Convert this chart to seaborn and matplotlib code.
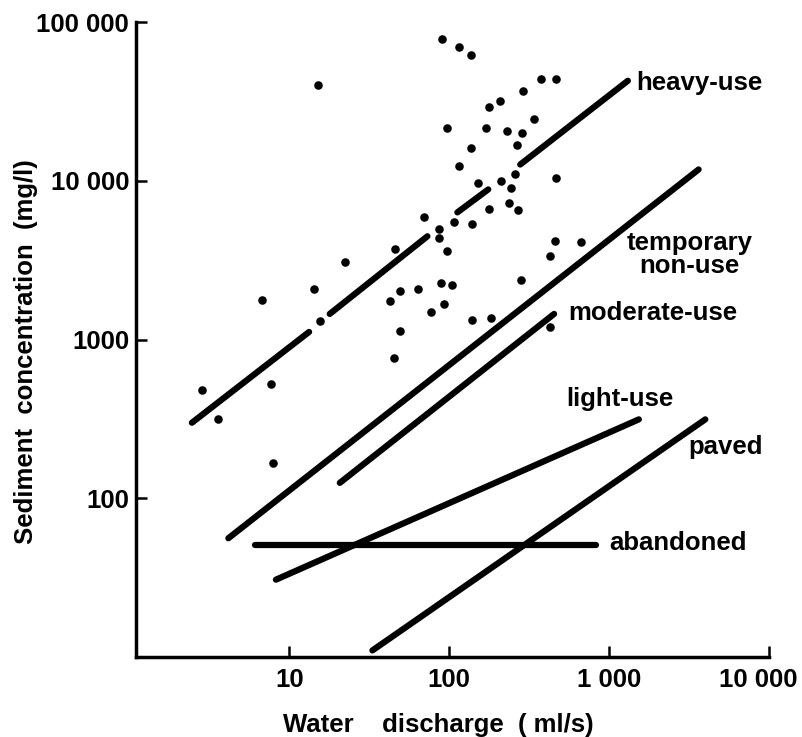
import pandas as pd
import seaborn as sns
import matplotlib.pyplot as plt
from matplotlib import transforms

# sampled storms: water discharge (ml/s) and sediment concentration (mg/l)
discharge = [90.3, 115.8, 137, 374, 464, 290, 178, 208, 340, 97, 170, 230, 286, 136, 264,
             116, 464, 259, 151, 212, 244, 237, 271, 178, 70, 107, 139, 86, 86, 97,
             459, 670, 426, 283, 49, 63.4, 89, 104, 77, 93, 139, 182, 428, 45.7, 22.2,
             14.3, 6.72, 15.5, 42.6, 49, 45.1, 2.84, 7.65, 3.6, 7.87, 15.1]
sediment = [78200, 69400, 62300, 43900, 43600, 36500, 29100, 31800, 24500, 21600, 21400, 20600, 20000, 16100, 16700,
            12300, 10400, 11000, 9710, 9940, 9040, 7280, 6510, 6670, 5880, 5500, 5320, 5000, 4390, 3620,
            4180, 4120, 3360, 2380, 2030, 2080, 2270, 2220, 1485, 1665, 1333, 1373, 1195, 3740, 3060,
            2080, 1780, 1314, 1747, 1132, 763, 478, 521, 316, 167, 40200]

# rating lines per road class (end points)
# heavy-use is printed broken where it runs through the dots
heavy_use_q = [2.46, 13.3, 17.9, 73.1, 112.5, 175.5, 278, 1310]
heavy_use_c = [299, 1116, 1449, 4470, 6320, 8820, 12650, 42640]
heavy_use_piece = [0, 0, 1, 1, 2, 2, 3, 3]
temporary_q = [4.16, 3630]
temporary_c = [56, 11780]
moderate_q = [20.7, 453]
moderate_c = [125, 1449]
light_q = [8.25, 1535]
light_c = [30.7, 314]
paved_q = [33.1, 3997]
paved_c = [11, 314]
abandoned_q = [6.1, 824]
abandoned_c = [51, 51]

label_text = ["heavy-use", "temporary\nnon-use", "moderate-use", "light-use", "paved", "abandoned"]
label_q = [1469, 3190, 553, 540, 3112, 997]
label_c = [37400, 2620, 1334, 383, 191, 47.1]
label_ha = ["left", "center", "left", "left", "left", "left"]

x_ticks = [10, 100, 1000, 10000]
x_ticklabels = ["10", "100", "1 000", "10 000"]
y_ticks = [100, 1000, 10000, 100000]
y_ticklabels = ["100", "1000", "10 000", "100 000"]


def line_frame(name, q, c, piece=None):
    if piece is None:
        piece = [0] * len(q)
    return pd.DataFrame({"q": q, "c": c, "unit": [f"{name}-{p}" for p in piece]})


lines = pd.concat([
    line_frame("heavy", heavy_use_q, heavy_use_c, heavy_use_piece),
    line_frame("temporary", temporary_q, temporary_c),
    line_frame("moderate", moderate_q, moderate_c),
    line_frame("light", light_q, light_c),
    line_frame("paved", paved_q, paved_c),
    line_frame("abandoned", abandoned_q, abandoned_c),
], ignore_index=True)
points = pd.DataFrame({"q": discharge, "c": sediment})

sns.set_style("ticks")
plt.rcParams["font.family"] = ["Liberation Sans", "DejaVu Sans"]
plt.rcParams["font.weight"] = "bold"
plt.rcParams["text.color"] = "black"
plt.rcParams["axes.labelcolor"] = "black"
plt.rcParams["axes.labelweight"] = "bold"
fs = 18.5

fig = plt.figure(figsize=(8.03, 7.37), dpi=100)
ax = fig.add_axes([136 / 803, 1 - 657 / 737, (769 - 136) / 803, (657 - 22) / 737])
ax.set_xscale("log")
ax.set_yscale("log")

sns.lineplot(data=lines, x="q", y="c", units="unit", estimator=None, sort=False,
             color="black", linewidth=4.5, solid_capstyle="round", legend=False, ax=ax)
sns.scatterplot(data=points, x="q", y="c", color="black", s=38, linewidth=0, ax=ax)

for t, q, c, ha in zip(label_text, label_q, label_c, label_ha):
    ax.text(q, c, t, ha=ha, va="baseline", fontsize=fs, linespacing=0.95,
            multialignment="center")

ax.set_xlim(1.1, 10000)
ax.set_ylim(10, 100000)
ax.set_xticks(x_ticks)
ax.set_xticklabels(x_ticklabels)
ax.set_yticks(y_ticks)
ax.set_yticklabels(y_ticklabels)
ax.minorticks_off()
ax.tick_params(direction="in", length=8, width=1.8, labelsize=fs,
               color="black", labelcolor="black")
ax.tick_params(axis="x", pad=8)
ax.tick_params(axis="y", pad=5)

for side in ["top", "right"]:
    ax.spines[side].set_visible(False)
for side in ["left", "bottom"]:
    ax.spines[side].set_linewidth(2.5)
    ax.spines[side].set_color("black")

ax.set_xlabel("Water    discharge  ( ml/s)", fontsize=fs, va="center")
ax.xaxis.set_label_coords(0.478, -0.107)
ax.set_ylabel("Sediment  concentration  (mg/l)", fontsize=fs, va="center")
ax.yaxis.set_label_coords(-0.174, 0.481)

# last x label sits a bit left of its tick, as printed
last = ax.get_xticklabels()[-1]
last.set_transform(last.get_transform() + transforms.ScaledTranslation(-0.11, 0, fig.dpi_scale_trans))

fig.savefig("out.png", dpi=100)
